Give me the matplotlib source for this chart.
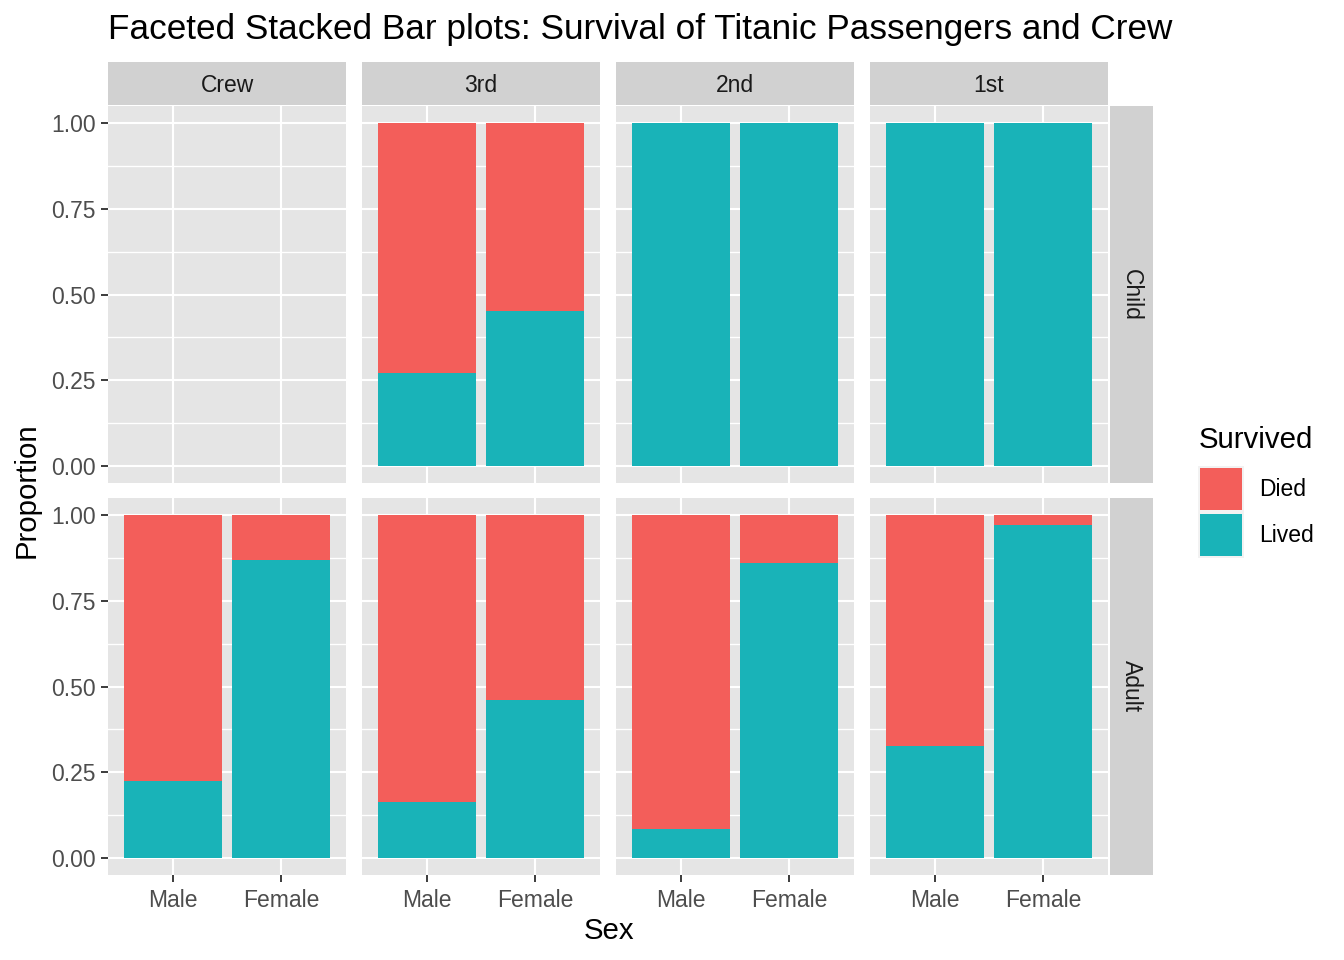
import numpy as np
import matplotlib
matplotlib.use("Agg")
import matplotlib.pyplot as plt
from matplotlib.patches import Rectangle

# data: proportion that lived, per class (columns) and sex
classes = ["Crew", "3rd", "2nd", "1st"]
ages = ["Child", "Adult"]
sexes = ["Male", "Female"]
lived_child = [[np.nan, np.nan], [0.271, 0.452], [1.0, 1.0], [1.0, 1.0]]
lived_adult = [[0.223, 0.870], [0.162, 0.461], [0.083, 0.860], [0.326, 0.972]]
lived = [lived_child, lived_adult]

DIED = "#F35E5A"
LIVED = "#19B3B8"
PANEL = "#E5E5E5"
STRIP = "#D1D1D1"

plt.rcParams["font.family"] = ["Liberation Sans", "DejaVu Sans"]

W, H = 1344, 960
fig = plt.figure(figsize=(W / 192, H / 192), dpi=192)


def px_axes(x0, y0, w, h):
    return fig.add_axes([x0 / W, 1 - (y0 + h) / H, w / W, h / H])


col_x = [108, 362, 616, 870]
row_y = [106, 498]
pw, ph = 238, 377

for r, age in enumerate(ages):
    for c, cls in enumerate(classes):
        ax = px_axes(col_x[c], row_y[r], pw, ph)
        ax.set_facecolor(PANEL)
        ax.set_xlim(0.4, 2.6)
        ax.set_ylim(-0.05, 1.05)
        for yv in np.arange(0.125, 1.0, 0.25):
            ax.axhline(yv, color="white", lw=0.5, zorder=0)
        for yv in np.arange(0, 1.01, 0.25):
            ax.axhline(yv, color="white", lw=0.8, zorder=0)
        for xv in [1, 2]:
            ax.axvline(xv, color="white", lw=0.8, zorder=0)
        vals = np.array(lived[r][c])
        xs = np.array([1, 2])
        ok = ~np.isnan(vals)
        if ok.any():
            ax.bar(xs[ok], vals[ok], width=0.9, color=LIVED, zorder=2)
            ax.bar(xs[ok], 1 - vals[ok], bottom=vals[ok], width=0.9,
                   color=DIED, zorder=2)
        for s in ax.spines.values():
            s.set_visible(False)
        ax.set_xticks([1, 2])
        ax.set_yticks([0, 0.25, 0.5, 0.75, 1.0])
        ax.tick_params(length=2.6, width=0.7, color="#333333",
                       labelsize=8.6, labelcolor="#4D4D4D", pad=2)
        ax.tick_params(axis="x", pad=2.8)
        if r == 1:
            ax.set_xticklabels(sexes)
        else:
            ax.tick_params(axis="x", length=0, labelbottom=False)
        if c == 0:
            ax.set_yticklabels(["0.00", "0.25", "0.50", "0.75", "1.00"])
        else:
            ax.tick_params(axis="y", length=0, labelleft=False)

# top strips
for c, cls in enumerate(classes):
    sa = px_axes(col_x[c], 62, pw, 43)
    sa.set_facecolor(STRIP)
    sa.set_xticks([])
    sa.set_yticks([])
    for s in sa.spines.values():
        s.set_visible(False)
    sa.text(0.5, 0.45, cls, ha="center", va="center", fontsize=8.6,
            color="#1A1A1A", transform=sa.transAxes)

# right strips
for r, age in enumerate(ages):
    sa = px_axes(1110, row_y[r], 43, ph)
    sa.set_facecolor(STRIP)
    sa.set_xticks([])
    sa.set_yticks([])
    for s in sa.spines.values():
        s.set_visible(False)
    sa.text(0.5, 0.5, age, ha="center", va="center", fontsize=8.6,
            color="#1A1A1A", rotation=-90, transform=sa.transAxes)

fig.text(108 / W, 1 - 30 / H,
         "Faceted Stacked Bar plots: Survival of Titanic Passengers and Crew",
         ha="left", va="center", fontsize=13.2)
fig.text(609 / W, 1 - 931 / H, "Sex", ha="center", va="center", fontsize=11)
fig.text(27 / W, 1 - 490 / H, "Proportion", ha="center", va="center",
         fontsize=11, rotation=90)

# legend
fig.text(1199 / W, 1 - 440 / H, "Survived", ha="left", va="center", fontsize=11)
for i, (lab, col) in enumerate([("Died", DIED), ("Lived", LIVED)]):
    y0 = 466 + i * 46
    fig.patches.append(Rectangle((1198 / W, 1 - (y0 + 46) / H), 46 / W, 46 / H,
                                 transform=fig.transFigure, facecolor="#F2F2F2",
                                 edgecolor="none"))
    fig.patches.append(Rectangle((1200 / W, 1 - (y0 + 44) / H), 42 / W, 42 / H,
                                 transform=fig.transFigure, facecolor=col,
                                 edgecolor="none"))
    fig.text(1259 / W, 1 - (y0 + 24) / H, lab, ha="left", va="center",
             fontsize=8.6)

fig.savefig("out.png", dpi=192)
